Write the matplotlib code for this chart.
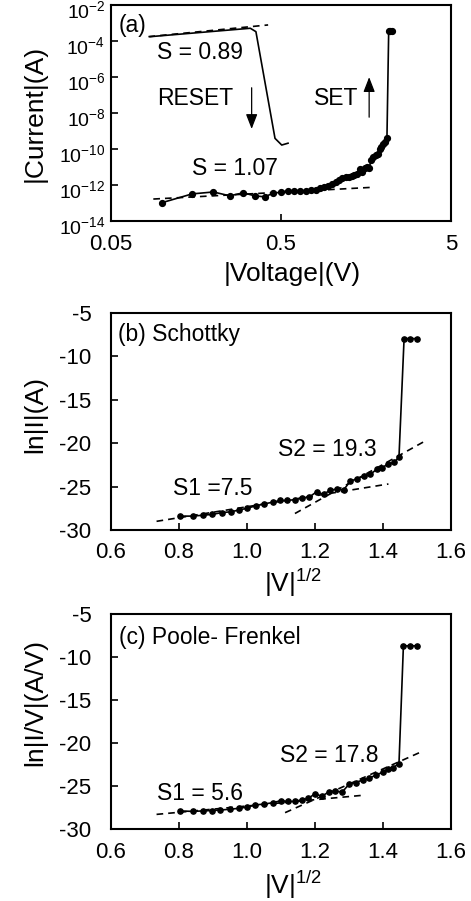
import matplotlib
matplotlib.use("Agg")
import matplotlib.pyplot as plt
from matplotlib.ticker import FixedLocator, FixedFormatter, NullLocator
from matplotlib.transforms import ScaledTranslation

plt.rcParams['font.family'] = ['Liberation Sans', 'DejaVu Sans']
plt.rcParams['mathtext.fontset'] = 'custom'
plt.rcParams['mathtext.rm'] = 'Liberation Sans'
plt.rcParams['mathtext.it'] = 'Liberation Sans:italic'
plt.rcParams['mathtext.bf'] = 'Liberation Sans:bold'
plt.rcParams['axes.unicode_minus'] = False

# ---------------- data: panel (a) ----------------
V_set = [0.10, 0.15, 0.20, 0.25, 0.30, 0.35, 0.40, 0.45, 0.50, 0.55, 0.60,
         0.65, 0.70, 0.75, 0.80, 0.85, 0.90, 0.95, 1.00, 1.05, 1.10, 1.15,
         1.20, 1.25, 1.30, 1.35, 1.40, 1.45, 1.50, 1.55, 1.60, 1.65, 1.70,
         1.75, 1.80, 1.85, 1.90, 1.95, 2.00, 2.05, 2.10, 2.15, 2.20, 2.25]
I_set = [1.05e-13, 3.2e-13, 4.1e-13, 2.5e-13, 3.7e-13, 2.5e-13, 2.2e-13,
         3.5e-13, 4.0e-13, 4.8e-13, 4.4e-13,
         4.7e-13, 4.7e-13, 5.1e-13, 5.6e-13, 6.9e-13, 7.6e-13, 9.3e-13,
         1.15e-12, 1.55e-12, 1.86e-12, 2.3e-12, 2.8e-12, 2.8e-12, 3.1e-12,
         3.8e-12, 4.2e-12, 7.6e-12, 5.6e-12, 9.3e-12, 1.02e-11, 9.3e-12,
         2.5e-11, 3.4e-11, 4.6e-11, 5.6e-11, 1.02e-10, 1.26e-10, 1.86e-10,
         2.3e-10, 4.2e-10, 3.5e-4, 3.5e-4, 3.5e-4]
V_reset = [0.085, 0.33, 0.356, 0.461, 0.505, 0.55]
I_reset = [1.74e-4, 5.1e-4, 3.3e-4, 3.9e-10, 1.66e-10, 2.1e-10]
V_fit_hrs = [0.0887, 1.71]
I_fit_hrs = [1.66e-13, 7.4e-13]
V_fit_lrs = [0.083, 0.42]
I_fit_lrs = [1.74e-4, 7.8e-4]
a_xticks = [0.05, 0.5, 5]
a_xticklabels = ['0.05', '0.5', '5']
a_yticks = [1e-14, 1e-12, 1e-10, 1e-8, 1e-6, 1e-4, 1e-2]
a_yticklabels = [r'$10^{-14}$', r'$10^{-12}$', r'$10^{-10}$', r'$10^{-8}$',
                 r'$10^{-6}$', r'$10^{-4}$', r'$10^{-2}$']

# ---------------- data: panel (b) Schottky ----------------
sqrtV_b = [0.803, 0.84, 0.87, 0.898, 0.925, 0.953, 0.976, 1.0, 1.027, 1.05,
           1.075, 1.097, 1.118, 1.141, 1.163, 1.183, 1.205, 1.225, 1.245,
           1.264, 1.284, 1.303, 1.323, 1.343, 1.362, 1.382, 1.398, 1.415,
           1.433, 1.447, 1.462, 1.48, 1.50]
lnI_b = [-28.4, -28.4, -28.3, -28.2, -28.0, -27.9, -27.7, -27.5, -27.2, -27.0,
         -26.8, -26.6, -26.6, -26.5, -26.3, -26.2, -25.6, -25.9, -25.4,
         -25.3, -25.4, -24.4, -24.1, -23.8, -23.6, -23.0, -22.8, -22.4,
         -22.2, -21.6, -7.95, -7.95, -7.95]
b_fit1_x = [0.734, 1.416]
b_fit1_y = [-29.0, -24.7]
b_fit2_x = [1.141, 1.526]
b_fit2_y = [-28.1, -19.7]

# ---------------- data: panel (c) Poole-Frenkel ----------------
sqrtV_c = [0.803, 0.84, 0.87, 0.897, 0.92, 0.95, 0.975, 1.0, 1.025, 1.05,
           1.075, 1.10, 1.12, 1.14, 1.163, 1.18, 1.20, 1.22, 1.24, 1.26,
           1.28, 1.30, 1.32, 1.34, 1.36, 1.38, 1.40, 1.415, 1.43, 1.447,
           1.46, 1.479, 1.499]
lnIV_c = [-27.9, -27.95, -27.9, -27.85, -27.8, -27.7, -27.6, -27.45, -27.2,
          -27.1, -26.95, -26.7, -26.8, -26.8, -26.6, -26.45, -25.9, -26.2,
          -25.7, -25.6, -25.7, -24.8, -24.6, -24.3, -24.1, -23.7, -23.4,
          -23.0, -22.85, -22.4, -8.7, -8.7, -8.7]
c_fit1_x = [0.734, 1.335]
c_fit1_y = [-28.3, -26.1]
c_fit2_x = [1.112, 1.514]
c_fit2_y = [-28.1, -21.0]

bc_xticks = [0.6, 0.8, 1.0, 1.2, 1.4, 1.6]
bc_yticks = [-30, -25, -20, -15, -10, -5]

# ---------------- figure ----------------
W, H = 471, 901
fig = plt.figure(figsize=(W / 100, H / 100), dpi=100)


def px_axes(l, t, r, b):
    return fig.add_axes([l / W, 1 - b / H, (r - l) / W, (b - t) / H])


TICK_FS = 16
ANN_FS = 16.5
LAB_FS = 19
LW = 1.2
MS = 4.2
DASH = (0, (4, 3))


def style(ax):
    for s in ax.spines.values():
        s.set_linewidth(1.5)
    ax.tick_params(which='both', direction='in', length=5, width=1.2,
                   labelsize=TICK_FS)
    ax.tick_params(axis='x', pad=9)


def place_labels(ax, xl, yl, xpos, ypos):
    ax.set_xlabel(xl, fontsize=LAB_FS)
    ax.set_ylabel(yl, fontsize=LAB_FS)
    ax.xaxis.label.set_va('center')
    ax.yaxis.label.set_va('center')
    ax.xaxis.set_label_coords(*xpos)
    ax.yaxis.set_label_coords(*ypos)


# ---- (a)
axa = px_axes(111, 5, 451, 221)
axa.set_xscale('log')
axa.set_yscale('log')
axa.set_xlim(0.05, 5)
axa.set_ylim(1e-14, 1e-2)
axa.plot(V_set, I_set, '-o', color='black', lw=LW, ms=MS)
axa.plot(V_reset, I_reset, '-', color='black', lw=LW)
axa.plot(V_fit_hrs, I_fit_hrs, color='black', lw=LW, linestyle=DASH)
axa.plot(V_fit_lrs, I_fit_lrs, color='black', lw=LW, linestyle=DASH)
axa.annotate('', xy=(0.336, 9.1e-10), xytext=(0.336, 3.6e-7),
             arrowprops=dict(arrowstyle='-|>,head_length=0.9,head_width=0.35',
                             color='black', lw=0.9))
axa.annotate('', xy=(1.65, 1.4e-6), xytext=(1.65, 4.1e-9),
             arrowprops=dict(arrowstyle='-|>,head_length=0.9,head_width=0.35',
                             color='black', lw=0.9))
style(axa)
axa.xaxis.set_major_locator(FixedLocator(a_xticks))
axa.xaxis.set_major_formatter(FixedFormatter(a_xticklabels))
axa.xaxis.set_minor_locator(NullLocator())
axa.yaxis.set_major_locator(FixedLocator(a_yticks))
axa.yaxis.set_major_formatter(FixedFormatter(a_yticklabels))
axa.yaxis.set_minor_locator(NullLocator())
axa.tick_params(axis='y', pad=4, labelsize=14)
shift = ScaledTranslation(0, -3 / 72, fig.dpi_scale_trans)
for lab in axa.get_yticklabels():
    lab.set_transform(lab.get_transform() + shift)
place_labels(axa, '|Voltage|(V)', '|Current|(A)', (0.534, -0.245), (-0.224, 0.5))
tk = dict(transform=axa.transAxes, fontsize=ANN_FS, va='center', ha='left')
axa.text(0.021, 0.907, '(a)', **tk)
axa.text(0.135, 0.778, 'S = 0.89', **tk)
axa.text(0.135, 0.565, 'RESET', **tk)
axa.text(0.597, 0.565, 'SET', **tk)
axa.text(0.238, 0.245, 'S = 1.07', **tk)

# ---- (b)
axb = px_axes(111, 313, 451, 530)
axb.plot(sqrtV_b, lnI_b, '-o', color='black', lw=LW, ms=MS * 0.9)
axb.plot(b_fit1_x, b_fit1_y, color='black', lw=LW, linestyle=DASH)
axb.plot(b_fit2_x, b_fit2_y, color='black', lw=LW, linestyle=DASH)
axb.set_xlim(0.6, 1.6)
axb.set_ylim(-30, -5)
style(axb)
axb.set_xticks(bc_xticks)
axb.set_xticklabels([f'{v:.1f}' for v in bc_xticks])
axb.set_yticks(bc_yticks)
axb.tick_params(axis='y', pad=14)
place_labels(axb, '|V|$^{1/2}$', 'ln|I|(A)', (0.535, -0.244), (-0.224, 0.53))
tk = dict(transform=axb.transAxes, fontsize=ANN_FS, va='center', ha='left')
axb.text(0.021, 0.899, '(b) Schottky', **tk)
axb.text(0.182, 0.189, 'S1 =7.5', **tk)
axb.text(0.491, 0.373, 'S2 = 19.3', **tk)

# ---- (c)
axc = px_axes(111, 614, 451, 829)
axc.plot(sqrtV_c, lnIV_c, '-o', color='black', lw=LW, ms=MS * 0.9)
axc.plot(c_fit1_x, c_fit1_y, color='black', lw=LW, linestyle=DASH)
axc.plot(c_fit2_x, c_fit2_y, color='black', lw=LW, linestyle=DASH)
axc.set_xlim(0.6, 1.6)
axc.set_ylim(-30, -5)
style(axc)
axc.set_xticks(bc_xticks)
axc.set_xticklabels([f'{v:.1f}' for v in bc_xticks])
axc.set_yticks(bc_yticks)
axc.tick_params(axis='y', pad=14)
place_labels(axc, '|V|$^{1/2}$', 'ln|I/V|(A/V)', (0.535, -0.26), (-0.224, 0.59))
tk = dict(transform=axc.transAxes, fontsize=ANN_FS, va='center', ha='left')
axc.text(0.024, 0.893, '(c) Poole- Frenkel', **tk)
axc.text(0.135, 0.167, 'S1 = 5.6', **tk)
axc.text(0.497, 0.344, 'S2 = 17.8', **tk)

fig.savefig('out.png', dpi=100)
